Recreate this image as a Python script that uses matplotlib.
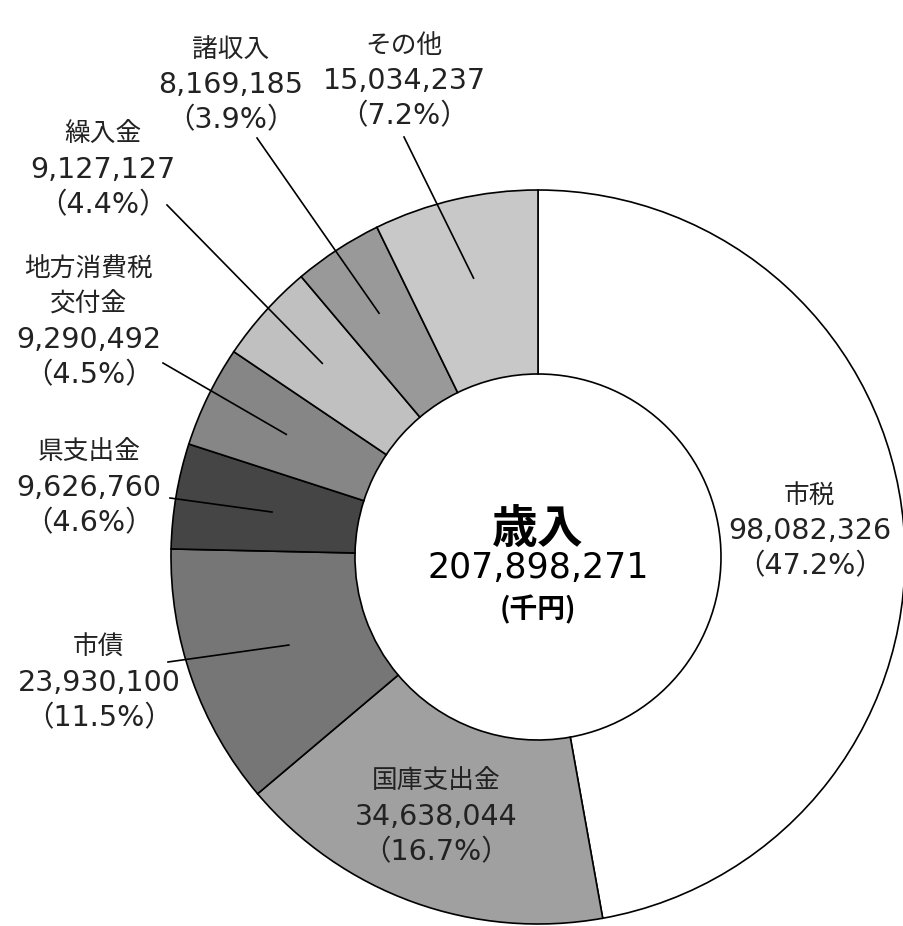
import numpy as np
import matplotlib
matplotlib.use("Agg")
import matplotlib.pyplot as plt

plt.rcParams["font.family"] = ["DejaVu Sans", "Noto Sans CJK JP"]
CJK = ["Noto Sans CJK JP", "DejaVu Sans"]

# ── data (千円) ────────────────────────────────────────────────────────────────
names = ["市税", "国庫支出金", "市債", "県支出金", "地方消費税\n交付金",
         "繰入金", "諸収入", "その他"]
values = [98082326, 34638044, 23930100, 9626760, 9290492,
          9127127, 8169185, 15034237]
shares = ["47.2", "16.7", "11.5", "4.6", "4.5", "4.4", "3.9", "7.2"]
total = 207898271

colors = ["#ffffff", "#a0a0a0", "#767676", "#454545", "#868686",
          "#c0c0c0", "#999999", "#c8c8c8"]

W, H = 904, 926
fig = plt.figure(figsize=(W / 100, H / 100), dpi=100)
ax = fig.add_axes([0, 0, 1, 1])

cx, cy, R = 538, H - 557, 367
wedges, _ = ax.pie(values, colors=colors, startangle=90, counterclock=False,
                   center=(cx, cy), radius=R, frame=True,
                   wedgeprops=dict(width=R - 183, edgecolor="black", linewidth=1.2))
ax.set_xlim(0, W)
ax.set_ylim(0, H)
ax.set_aspect("equal")
ax.axis("off")

# label x, y of first line (px from top), leader start (None = inside wedge), leader radius
layout = [
    (810, 496, None, 0),
    (436, 782, None, 0),
    (99, 648, (168, 662), 0.72),
    (89, 453, (170, 498), 0.735),
    (89, 270, (163, 363), 0.763),
    (103, 135, (167, 205), 0.79),
    (231, 50, (257, 138), 0.793),
    (404, 46, (404, 137), 0.78),
]
STEP = 35

for w, n, v, s, (x, y, start, rr) in zip(wedges, names, values, shares, layout):
    for line in n.split("\n"):
        ax.text(x, H - y, line, ha="center", va="center", fontsize=18.5,
                family=CJK, color="#222222")
        y += STEP
    ax.text(x, H - y, f"{v:,}", ha="center", va="center", fontsize=20.5,
            color="#222222")
    y += STEP
    ax.text(x, H - y, f"（{s}%）", ha="center", va="center", fontsize=20.5,
            color="#222222")
    if start is not None:
        mid = np.deg2rad((w.theta1 + w.theta2) / 2)
        ex, ey = cx + rr * R * np.cos(mid), cy + rr * R * np.sin(mid)
        ax.plot([start[0], ex], [H - start[1], ey], color="black", lw=1.2)

ax.text(cx, H - 530, "歳入", ha="center", va="center", fontsize=33,
        fontweight="bold", family=CJK)
ax.text(cx, H - 568, f"{total:,}", ha="center", va="center", fontsize=25)
ax.text(cx, H - 610, "(千円)", ha="center", va="center", fontsize=20,
        fontweight="bold", family=CJK)

fig.savefig("out.png", dpi=100)
